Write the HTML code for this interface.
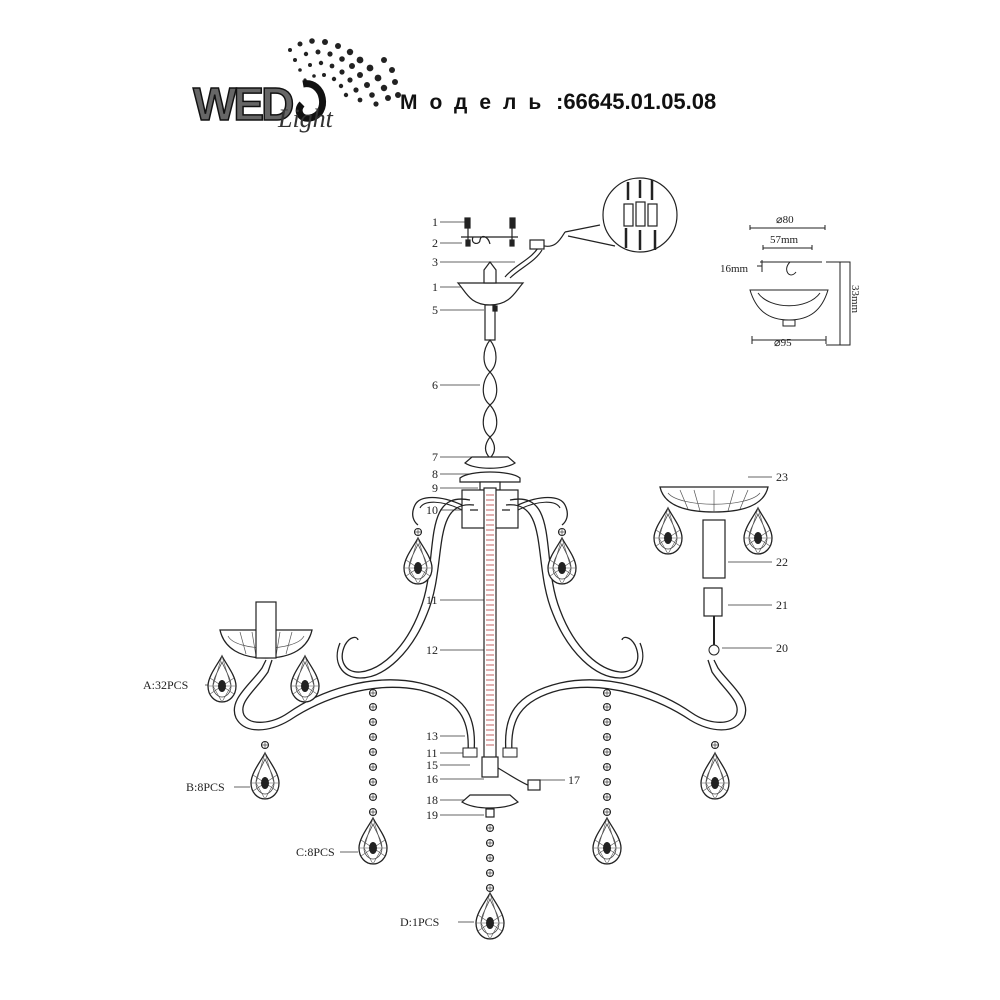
<!DOCTYPE html>
<html><head><meta charset="utf-8"><style>
html,body{margin:0;padding:0;background:#fff;width:1000px;height:1000px;overflow:hidden}
svg{display:block}
text{font-family:"Liberation Serif",serif;fill:#222}
</style></head><body>
<svg width="1000" height="1000" viewBox="0 0 1000 1000" xmlns="http://www.w3.org/2000/svg">
<defs>
<g id="drop">
  <path d="M0,-22 C-4,-14 -14,-2 -14,8 C-14,18 -7,24 0,24 C7,24 14,18 14,8 C14,-2 4,-14 0,-22Z" fill="#fff" stroke="#222" stroke-width="1.3"/>
  <path d="M0,-16 C-3,-8 -9,0 -9,8 C-9,15 -4,19 0,19 C4,19 9,15 9,8 C9,0 3,-8 0,-16Z" fill="none" stroke="#444" stroke-width="0.8"/>
  <path d="M-14,8 L14,8 M0,-22 L-9,8 L0,24 L9,8 Z M-12,0 L12,16 M12,0 L-12,16" fill="none" stroke="#555" stroke-width="0.6"/>
  <ellipse cx="0" cy="8" rx="4" ry="6" fill="#222"/>
</g>
<g id="bead"><circle r="3.5" fill="#fff" stroke="#222" stroke-width="1.1"/><path d="M-3,0 L3,0 M0,-3 L0,3" stroke="#444" stroke-width="0.7"/></g>
<g id="half">
  <path d="M468,752 C470,720 460,700 420,690 C370,680 320,700 290,720 C270,732 245,735 236,718 C228,700 250,685 262,668 L266,660" fill="none" stroke="#222" stroke-width="1.3"/>
  <path d="M474,752 C477,716 466,694 420,683 C370,672 318,692 288,713 C272,724 250,726 244,715 C238,702 256,690 268,672 L272,660" fill="none" stroke="#222" stroke-width="1.3"/>
  <rect x="463" y="748" width="14" height="9" fill="#fff" stroke="#222"/>
  <path d="M470,500 C420,490 440,560 420,610 C405,650 380,670 360,672 C345,673 338,660 345,645 C350,636 357,636 358,640" fill="none" stroke="#222" stroke-width="1.3"/>
  <path d="M474,505 C430,500 448,565 427,614 C412,652 385,678 360,678 C342,678 332,662 340,643" fill="none" stroke="#222" stroke-width="1.3"/>
  <path d="M462,505 C440,495 420,495 415,505 C410,515 414,522 418,525" fill="none" stroke="#222" stroke-width="1.3"/>
  <path d="M462,510 C442,500 424,500 420,508" fill="none" stroke="#222" stroke-width="1.1"/>
  <use href="#bead" x="418" y="532"/>
  <use href="#drop" x="418" y="560"/>
  <use href="#bead" x="373" y="693"/><use href="#bead" x="373" y="707"/><use href="#bead" x="373" y="722"/><use href="#bead" x="373" y="737"/><use href="#bead" x="373" y="752"/><use href="#bead" x="373" y="767"/><use href="#bead" x="373" y="782"/><use href="#bead" x="373" y="797"/><use href="#bead" x="373" y="812"/>
  <use href="#drop" x="373" y="840"/>
  <use href="#bead" x="265" y="745"/>
  <use href="#drop" x="265" y="775"/>
  <path d="M220,630 L312,630 C308,648 292,658 266,658 C240,658 224,648 220,630Z" fill="#fff" stroke="#222" stroke-width="1.3"/>
  <path d="M228,636 C236,652 296,652 304,636 M240,632 L246,654 M252,632 L256,656 M266,632 L266,657 M280,632 L276,656 M292,632 L286,654" fill="none" stroke="#555" stroke-width="0.7"/>
  <rect x="256" y="602" width="20" height="56" fill="#fff" stroke="#222" stroke-width="1.2"/>
  <use href="#drop" x="222" y="678"/>
  <use href="#drop" x="305" y="678"/>
</g>
</defs>

<g>
  <g fill="#222">
    <circle cx="290" cy="50" r="2"/><circle cx="300" cy="44" r="2.5"/><circle cx="312" cy="41" r="2.8"/><circle cx="325" cy="42" r="3"/><circle cx="338" cy="46" r="3"/><circle cx="350" cy="52" r="3.2"/><circle cx="360" cy="60" r="3.4"/><circle cx="370" cy="68" r="3.4"/><circle cx="378" cy="78" r="3.4"/><circle cx="384" cy="88" r="3.2"/><circle cx="388" cy="98" r="3"/>
    <circle cx="295" cy="60" r="2"/><circle cx="306" cy="54" r="2.2"/><circle cx="318" cy="52" r="2.5"/><circle cx="330" cy="54" r="2.6"/><circle cx="342" cy="59" r="2.8"/><circle cx="352" cy="66" r="3"/><circle cx="360" cy="75" r="3"/><circle cx="367" cy="85" r="3"/><circle cx="372" cy="95" r="2.8"/><circle cx="376" cy="104" r="2.6"/>
    <circle cx="300" cy="70" r="1.8"/><circle cx="310" cy="65" r="2"/><circle cx="321" cy="63" r="2.2"/><circle cx="332" cy="66" r="2.4"/><circle cx="342" cy="72" r="2.6"/><circle cx="350" cy="80" r="2.6"/><circle cx="356" cy="90" r="2.6"/><circle cx="360" cy="100" r="2.4"/>
    <circle cx="305" cy="80" r="1.6"/><circle cx="314" cy="76" r="1.8"/><circle cx="324" cy="75" r="2"/><circle cx="334" cy="79" r="2.2"/><circle cx="341" cy="86" r="2.2"/><circle cx="346" cy="95" r="2.2"/>
    <circle cx="395" cy="82" r="3"/><circle cx="398" cy="95" r="3"/><circle cx="392" cy="70" r="3"/><circle cx="384" cy="60" r="3"/>
  </g>
  <text x="193" y="120" style="font-family:'Liberation Sans',sans-serif;font-weight:bold;font-size:46px;fill:#666;stroke:#111;stroke-width:1.5;letter-spacing:-3px">WED</text>
  <path d="M303,84 C325,80 330,115 310,118 C300,120 296,110 302,104" fill="none" stroke="#111" stroke-width="7"/>
  <text x="278" y="127" style="font-family:'Liberation Serif',serif;font-style:italic;font-size:26px;fill:#333">Light</text>
</g>
<text x="400" y="109" style="font-family:'Liberation Sans',sans-serif;font-size:21px;font-weight:bold;letter-spacing:12px;fill:#111">Модель</text>
<text x="556" y="109" style="font-family:'Liberation Sans',sans-serif;font-size:22px;font-weight:bold;fill:#111">:66645.01.05.08</text>

<g font-size="12">
<text x="432" y="226">1</text><text x="432" y="247">2</text><text x="432" y="266">3</text><text x="432" y="291">1</text><text x="432" y="314">5</text>
<text x="432" y="389">6</text><text x="432" y="461">7</text><text x="432" y="478">8</text><text x="432" y="492">9</text><text x="426" y="514">10</text>
<text x="426" y="604">11</text><text x="426" y="654">12</text><text x="426" y="740">13</text><text x="426" y="757">11</text><text x="426" y="769">15</text><text x="426" y="783">16</text><text x="426" y="804">18</text><text x="426" y="819">19</text>
<text x="568" y="784">17</text>
<text x="776" y="481">23</text><text x="776" y="566">22</text><text x="776" y="609">21</text><text x="776" y="652">20</text>
<text x="143" y="689">A:32PCS</text><text x="186" y="791">B:8PCS</text><text x="296" y="856">C:8PCS</text><text x="400" y="926">D:1PCS</text>
</g>
<g stroke="#333" stroke-width="0.8" fill="none">
<path d="M440,222 H466 M440,243 H462 M440,262 H515 M440,287 H465 M440,310 H484 M440,385 H480 M440,457 H475 M440,474 H470 M440,488 H478 M440,510 H465 M440,600 H485 M440,650 H485 M440,736 H465 M440,753 H468 M440,765 H470 M440,779 H484 M440,800 H470 M440,815 H484 M565,780 H540"/>
<path d="M772,477 H748 M772,562 H728 M772,605 H728 M772,648 H722"/>
<path d="M205,685 H222 M234,787 H250 M340,852 H358 M458,922 H474"/>
</g>

<g stroke="#222" stroke-width="1.2" fill="none">
<path d="M461,237 H518 M473,237 C470,245 480,245 480,240 C481,234 488,236 490,244"/>
<path d="M468,222 V246 M512,222 V246"/>
<rect x="465" y="218" width="5" height="10" fill="#222"/><rect x="510" y="218" width="5" height="10" fill="#222"/>
<rect x="466" y="240" width="4" height="6" fill="#222"/><rect x="510" y="240" width="4" height="6" fill="#222"/>
<path d="M505,277 C515,265 530,260 538,248 M510,278 C520,268 535,262 542,250 M540,245 C555,250 560,240 565,232"/>
<rect x="530" y="240" width="14" height="9" fill="#fff"/>
<path d="M565,232 L600,225 M568,236 L615,246"/>
<circle cx="640" cy="215" r="37" fill="#fff"/>
<path d="M628,182 V200 M640,180 V198 M652,180 V200 M626,228 V248 M640,230 V250 M655,230 V250" stroke-width="2.5"/>
<rect x="624" y="204" width="9" height="22"/><rect x="636" y="202" width="9" height="24"/><rect x="648" y="204" width="9" height="22"/>
<path d="M458,283 H523 C515,292 510,305 490,305 C470,305 466,292 458,283Z" fill="#fff"/>
<path d="M484,270 L490,262 L496,270 V283 H484Z" fill="#fff"/>
<rect x="485" y="305" width="10" height="35" fill="#fff"/>
<rect x="493" y="306" width="4" height="5" fill="#222"/>
<path d="M490,340 C482,350 482,365 490,372 C498,365 498,350 490,340Z M490,372 C481,382 481,398 490,405 C499,398 499,382 490,372Z M490,405 C481,415 481,430 490,437 C499,430 499,415 490,405Z M490,437 C484,445 484,452 490,458 C496,452 496,445 490,437Z"/>
<path d="M472,457 H508 L515,463 C505,470 475,470 465,463Z" fill="#fff"/>
<path d="M460,478 C470,470 510,470 520,478 V482 H460Z" fill="#fff"/>
<rect x="480" y="482" width="20" height="8" fill="#fff"/>
<rect x="462" y="490" width="56" height="38" fill="#fff"/>
<path d="M470,510 H478 M502,510 H510"/>
<rect x="484" y="488" width="12" height="270" fill="#fff"/>
</g>
<g stroke="#b03030" stroke-width="0.7">
<path d="M486,495 H494 M486,500 H494 M486,505 H494 M486,510 H494 M486,515 H494 M486,520 H494 M486,525 H494 M486,530 H494 M486,535 H494 M486,540 H494 M486,545 H494 M486,550 H494 M486,555 H494 M486,560 H494 M486,565 H494 M486,570 H494 M486,575 H494 M486,580 H494 M486,585 H494 M486,590 H494 M486,595 H494 M486,600 H494 M486,605 H494 M486,610 H494 M486,615 H494 M486,620 H494 M486,625 H494 M486,630 H494 M486,635 H494 M486,640 H494 M486,645 H494 M486,650 H494 M486,655 H494 M486,660 H494 M486,665 H494 M486,670 H494 M486,675 H494 M486,680 H494 M486,685 H494 M486,690 H494 M486,695 H494 M486,700 H494 M486,705 H494 M486,710 H494 M486,715 H494 M486,720 H494 M486,725 H494 M486,730 H494 M486,735 H494 M486,740 H494 M486,745 H494"/>
</g>

<use href="#half"/>
<g transform="translate(980,0) scale(-1,1)">
  <path d="M468,752 C470,720 460,700 420,690 C370,680 320,700 290,720 C270,732 245,735 236,718 C228,700 250,685 262,668 L266,660" fill="none" stroke="#222" stroke-width="1.3"/>
  <path d="M474,752 C477,716 466,694 420,683 C370,672 318,692 288,713 C272,724 250,726 244,715 C238,702 256,690 268,672 L272,660" fill="none" stroke="#222" stroke-width="1.3"/>
  <rect x="463" y="748" width="14" height="9" fill="#fff" stroke="#222"/>
  <path d="M470,500 C420,490 440,560 420,610 C405,650 380,670 360,672 C345,673 338,660 345,645 C350,636 357,636 358,640" fill="none" stroke="#222" stroke-width="1.3"/>
  <path d="M474,505 C430,500 448,565 427,614 C412,652 385,678 360,678 C342,678 332,662 340,643" fill="none" stroke="#222" stroke-width="1.3"/>
  <path d="M462,505 C440,495 420,495 415,505 C410,515 414,522 418,525" fill="none" stroke="#222" stroke-width="1.3"/>
  <path d="M462,510 C442,500 424,500 420,508" fill="none" stroke="#222" stroke-width="1.1"/>
  <use href="#bead" x="418" y="532"/><use href="#drop" x="418" y="560"/>
  <use href="#bead" x="373" y="693"/><use href="#bead" x="373" y="707"/><use href="#bead" x="373" y="722"/><use href="#bead" x="373" y="737"/><use href="#bead" x="373" y="752"/><use href="#bead" x="373" y="767"/><use href="#bead" x="373" y="782"/><use href="#bead" x="373" y="797"/><use href="#bead" x="373" y="812"/>
  <use href="#drop" x="373" y="840"/>
  <use href="#bead" x="265" y="745"/><use href="#drop" x="265" y="775"/>
  <circle cx="266" cy="650" r="5" fill="#fff" stroke="#222"/>
  <rect x="258" y="588" width="18" height="28" fill="#fff" stroke="#222" stroke-width="1.2"/>
  <path d="M266,616 V645" stroke="#222" stroke-width="2"/>
  <rect x="255" y="520" width="22" height="58" fill="#fff" stroke="#222" stroke-width="1.2"/>
  <path d="M212,487 L320,487 C316,505 296,512 266,512 C236,512 216,505 212,487Z" fill="#fff" stroke="#222" stroke-width="1.3"/>
  <path d="M220,493 C232,508 300,508 312,493 M232,490 L240,509 M246,490 L252,511 M266,490 L266,512 M286,490 L280,511 M300,490 L292,509" fill="none" stroke="#555" stroke-width="0.7"/>
  <use href="#drop" x="222" y="530"/><use href="#drop" x="312" y="530"/>
</g>

<g stroke="#222" stroke-width="1.2" fill="#fff">
<rect x="482" y="757" width="16" height="20"/>
<path d="M498,768 C510,775 520,782 530,786"/>
<rect x="528" y="780" width="12" height="10"/>
<path d="M470,795 H510 L518,802 C505,810 475,810 462,802Z"/>
<rect x="486" y="809" width="8" height="8"/>
</g>
<use href="#bead" x="490" y="828"/><use href="#bead" x="490" y="843"/><use href="#bead" x="490" y="858"/><use href="#bead" x="490" y="873"/><use href="#bead" x="490" y="888"/>
<use href="#drop" x="490" y="915"/>

<g stroke="#222" stroke-width="1" fill="none">
<path d="M750,225 V230 M825,225 V230 M750,228 H825"/>
<path d="M763,245 V250 M812,245 V250 M763,248 H812"/>
<path d="M760,262 H822 M790,262 C782,270 790,280 796,272"/>
<path d="M750,290 H828 C822,310 810,320 789,320 C768,320 756,310 750,290Z" fill="#fff"/>
<path d="M758,293 C770,310 808,310 820,293"/>
<rect x="783" y="320" width="12" height="6" fill="#fff"/>
<path d="M752,340 H826 M752,336 V344 M826,336 V344"/>
<path d="M826,262 H850 V345 H826 M840,262 V345"/>
<path d="M757,266 H762 M762,260 V272"/>
</g>
<g font-size="11">
<text x="776" y="223">⌀80</text><text x="770" y="243">57mm</text><text x="720" y="272">16mm</text><text x="774" y="346">⌀95</text>
<text x="852" y="285" transform="rotate(90 852 285)">33mm</text>
</g>
</svg>
</body></html>
